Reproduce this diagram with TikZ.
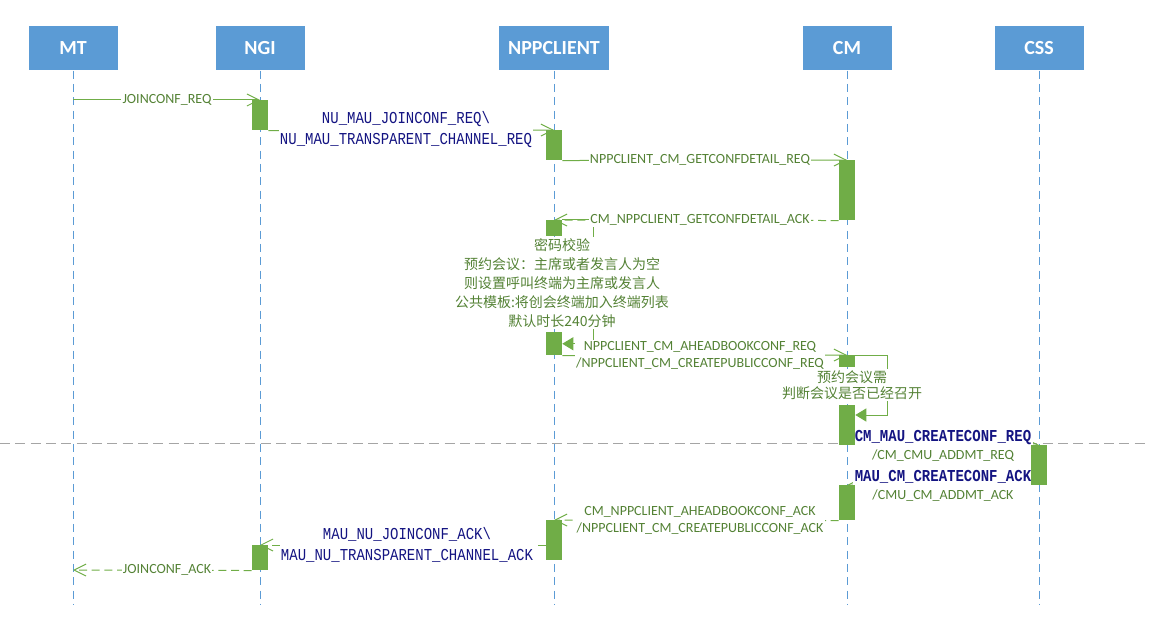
\documentclass[tikz,border=0pt]{standalone}
\usepackage{fontspec}
\setmainfont{Carlito}
\newfontfamily\monof[FakeStretch=0.84]{Liberation Mono}
\newfontfamily\cjkf{Noto Sans CJK SC}
\usetikzlibrary{arrows.meta,calc}
\definecolor{hdrblue}{HTML}{5B9BD5}
\definecolor{barg}{HTML}{70AD47}
\definecolor{gtext}{HTML}{548235}
\definecolor{navyt}{RGB}{20,20,130}
\definecolor{sepgray}{HTML}{A5A5A5}
\pgfdeclarelayer{bg}
\pgfdeclarelayer{arr}
\pgfsetlayers{bg,arr,main}
\begin{document}
\begin{tikzpicture}[x=0.75pt,y=-0.75pt,
  hdr/.style={fill=hdrblue, text=white, font=\fontsize{15pt}{18pt}\selectfont\bfseries, minimum height=33pt, inner sep=0pt, anchor=north},
  bar/.style={fill=barg, draw=none, minimum width=12pt, inner sep=0pt, anchor=north},
  life/.style={draw=hdrblue, line width=0.75pt, dash pattern=on 6pt off 4pt},
  msg/.style={draw=barg, line width=0.75pt, -{Straight Barb[length=9pt,width=9pt]}},
  ret/.style={msg, dash pattern=on 6pt off 3.5pt},
  selfarr/.style={draw=barg, line width=0.75pt, -{Triangle[length=8.25pt,width=9.75pt]}},
  glab/.style={fill=white, text=gtext, inner sep=1pt, align=center, font=\fontsize{10.5pt}{12.75pt}\selectfont},
  blab/.style={fill=white, text=navyt, inner sep=1pt, align=center, font=\monof\fontsize{12.5pt}{15.75pt}\selectfont},
  mixlab/.style={fill=white, text=gtext, inner sep=1pt, align=center, font=\fontsize{10.5pt}{13.5pt}\selectfont},
  cjklab/.style={fill=white, text=gtext, inner sep=1pt, align=center, font=\cjkf\fontsize{10.5pt}{14.25pt}\selectfont},
  cjklabb/.style={cjklab, font=\cjkf\fontsize{10.5pt}{12.4pt}\selectfont}
]
\useasboundingbox (0,0) rectangle (1150,631);
% headers
\node[hdr, minimum width=66.75pt] (MT) at (73,26) {MT};
\node[hdr, minimum width=66.75pt] (NGI) at (260,26) {NGI};
\node[hdr, minimum width=82.5pt] (NPP) at (554,26) {NPPCLIENT};
\node[hdr, minimum width=66.75pt] (CM) at (847,26) {CM};
\node[hdr, minimum width=66.75pt] (CSS) at (1039,26) {CSS};
\coordinate (bot) at (0,605);
% activation bars
\node[bar, minimum height=22.5pt] (bNGI1) at (260,100) {};
\node[bar, minimum height=22.5pt] (bNPP1) at (554,130) {};
\node[bar, minimum height=45pt] (bCM1) at (847,160) {};
\node[bar, minimum height=12pt] (bNPP2) at (554,220) {};
\node[bar, minimum height=17.25pt] (bNPP3) at (554,332) {};
\node[bar, minimum height=9pt] (bCM2) at (847,355) {};
\node[bar, minimum height=30pt] (bCM3) at (847,405) {};
\node[bar, minimum height=30pt] (bCSS1) at (1039,445) {};
\node[bar, minimum height=26.25pt] (bCM4) at (847,485) {};
\node[bar, minimum height=30pt] (bNPP4) at (554,520) {};
\node[bar, minimum height=18.75pt] (bNGI2) at (260,545) {};
\begin{pgfonlayer}{bg}
\draw[life] (MT.south) -- (MT.south |- bot);
\draw[life] (NGI.south) -- (NGI.south |- bot);
\draw[life] (NPP.south) -- (NPP.south |- bot);
\draw[life] (CM.south) -- (CM.south |- bot);
\draw[life] (CSS.south) -- (CSS.south |- bot);
\coordinate (sepL) at (0,443);
\coordinate (sepR) at (1150,443);
\draw[sepgray, line width=0.75pt, dash pattern=on 7.5pt off 4pt] (sepL) -- (sepR);
\end{pgfonlayer}
\begin{pgfonlayer}{arr}
\coordinate (mt1) at (73,100);
\coordinate (mt2) at (73,570);
\draw[msg] (mt1) -- (bNGI1.north);
\draw[msg] (bNGI1.south east) -- (bNPP1.north);
\draw[msg] (bNPP1.south east) -- (bCM1.north);
\draw[ret] (bCM1.south west) -- (bNPP2.north);
\draw[selfarr] (bNPP2.north east) -- ++(31,0) |- (bNPP3.east);
\draw[msg] (bNPP3.south east) -- (bCM2.north);
\draw[selfarr] (bCM2.north east) -- ++(32,0) |- ($(bCM3.north east)+(0,10)$);
\draw[msg] (bCM3.south east) -- (bCSS1.north);
\draw[ret] (bCSS1.south west) -- (bCM4.north);
\draw[ret] (bCM4.south west) -- (bNPP4.north);
\draw[ret] ($(bNPP4.north west)+(0,25)$) -- (bNGI2.north);
\draw[ret] (bNGI2.south west) -- (mt2);
% labels
\node[glab] (l1) at (167,100) {JOINCONF\_REQ};
\node[blab] (l2) at (406,130) {NU\_MAU\_JOINCONF\_REQ\textbackslash\\NU\_MAU\_TRANSPARENT\_CHANNEL\_REQ};
\node[glab] (l3) at (700,160) {NPPCLIENT\_CM\_GETCONFDETAIL\_REQ};
\node[glab] (l4) at (700,220) {CM\_NPPCLIENT\_GETCONFDETAIL\_ACK};
\node[cjklab] (l5) at (562,283) {密码校验\\预约会议：主席或者发言人为空\\则设置呼叫终端为主席或发言人\\公共模板:将创会终端加入终端列表\\默认时长240分钟};
\node[glab] (l6) at (700,355) {NPPCLIENT\_CM\_AHEADBOOKCONF\_REQ\\/NPPCLIENT\_CM\_CREATEPUBLICCONF\_REQ};
\node[cjklabb] (l7) at (852,385) {预约会议需\\判断会议是否已经召开};
\node[mixlab] (l8) at (943,446) {{\color{navyt}\monof\bfseries\fontsize{12.5pt}{13.5pt}\selectfont CM\_MAU\_CREATECONF\_REQ}\\/CM\_CMU\_ADDMT\_REQ};
\node[mixlab] (l9) at (943,486) {{\color{navyt}\monof\bfseries\fontsize{12.5pt}{13.5pt}\selectfont MAU\_CM\_CREATECONF\_ACK}\\/CMU\_CM\_ADDMT\_ACK};
\node[glab] (l10) at (700,520) {CM\_NPPCLIENT\_AHEADBOOKCONF\_ACK\\/NPPCLIENT\_CM\_CREATEPUBLICCONF\_ACK};
\node[blab] (l11) at (407,545) {MAU\_NU\_JOINCONF\_ACK\textbackslash\\MAU\_NU\_TRANSPARENT\_CHANNEL\_ACK};
\node[glab] (l12) at (167,570) {JOINCONF\_ACK};
\end{pgfonlayer}
\end{tikzpicture}
\end{document}
